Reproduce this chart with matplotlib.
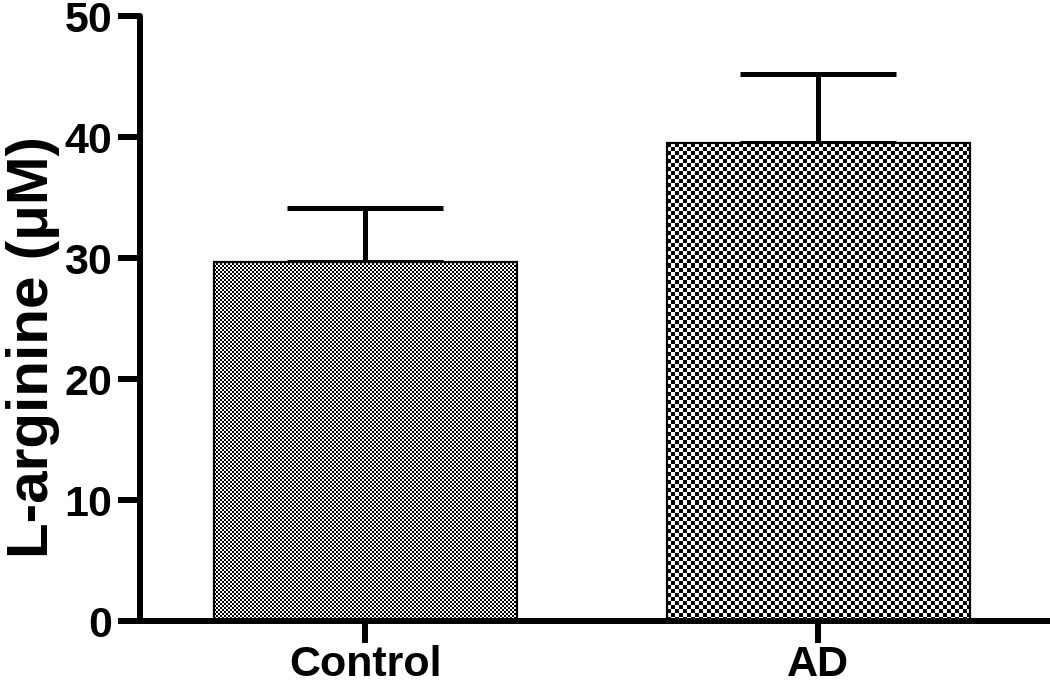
"""Bar chart of L-arginine levels, Control vs AD, with checkerboard fills."""

import matplotlib
matplotlib.use("Agg")
import matplotlib.pyplot as plt
import numpy as np

plt.rcParams["font.family"] = ["Liberation Sans", "DejaVu Sans"]
plt.rcParams["font.weight"] = "bold"

groups = ["Control", "AD"]
means = [29.7, 39.5]
sems = [4.4, 5.7]
checker_px = [2, 4]  # size of one checker square, in pixels

fig = plt.figure(figsize=(10.5, 6.84), dpi=100)
ax = fig.add_axes([0.1333, 0.0921, 0.8667, 0.8845])

x = np.arange(len(groups))
ax.errorbar(x, means, yerr=[np.zeros(len(sems)), sems], fmt="none",
            ecolor="black", elinewidth=3.6, capsize=56, capthick=3.6,
            zorder=1, solid_capstyle="round")
bars = ax.bar(x, means, width=0.669, facecolor="none", edgecolor="black",
              linewidth=1.6, zorder=3)

ax.set_xlim(-0.497, 1.512)
ax.set_ylim(0, 50)
ax.set_yticks([0, 10, 20, 30, 40, 50])
ax.set_xticks(x)
ax.set_xticklabels(groups)

# checkerboard textures clipped to each bar
fig.canvas.draw()
for b, cell in zip(bars, checker_px):
    x0, y0 = b.get_x(), b.get_y()
    x1, y1 = x0 + b.get_width(), y0 + b.get_height()
    (px0, py0), (px1, py1) = ax.transData.transform([(x0, y0), (x1, y1)])
    nx = max(1, int(round((px1 - px0) / cell)))
    ny = max(1, int(round((py1 - py0) / cell)))
    board = (np.add.outer(np.arange(ny), np.arange(nx)) % 2).astype(float)
    im = ax.imshow(board, cmap="gray", vmin=0, vmax=1, extent=[x0, x1, y0, y1],
                   interpolation="nearest", aspect="auto", zorder=2)
    im.set_clip_path(b)
ax.set_xlim(-0.497, 1.512)
ax.set_ylim(0, 50)

for side in ["top", "right"]:
    ax.spines[side].set_visible(False)
for side in ["left", "bottom"]:
    ax.spines[side].set_linewidth(4.3)
    ax.spines[side].set_capstyle("round")

ax.tick_params(axis="both", length=16, width=4.3, labelsize=31, pad=4)
ax.tick_params(axis="x", pad=1)
for lbl in ax.get_xticklabels() + ax.get_yticklabels():
    lbl.set_fontweight("bold")

ax.set_ylabel("L-arginine (\u03bcM)", fontsize=42, fontweight="bold",
              labelpad=3, y=0.453)

fig.savefig("out.png", dpi=100)
